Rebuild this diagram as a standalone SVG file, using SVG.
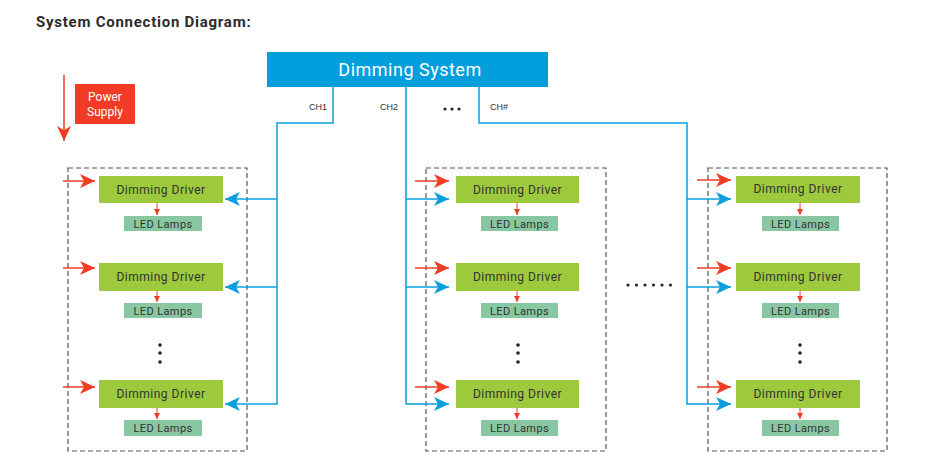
<svg xmlns="http://www.w3.org/2000/svg" width="950" height="460" viewBox="0 0 950 460">
<defs>
<style>
.title{font-family:Roboto,"Liberation Sans",sans-serif;font-weight:bold;font-size:15px;fill:#2b2b2b;letter-spacing:0.75px}
.sys{fill:#039fdd}
.systxt{font-family:Roboto,"Liberation Sans",sans-serif;font-size:18px;fill:#fff;letter-spacing:0.5px}
.ch{font-family:"Liberation Sans",Arial,sans-serif;font-size:9px;fill:#333}
.drv{fill:#9dc93c}
.drvtxt{font-family:Roboto,"Liberation Sans",sans-serif;font-size:12px;fill:#333;letter-spacing:0.5px}
.lamp{fill:#88c7a2}
.lamptxt{font-family:Roboto,"Liberation Sans",sans-serif;font-size:11px;fill:#333;letter-spacing:0.4px}
.grp{fill:none;stroke:#555;stroke-width:1.2;stroke-dasharray:5,3}
.blue{fill:none;stroke:#0a9fdc;stroke-width:1.5}
.red{fill:none;stroke:#f03c24;stroke-width:1.5}
.redt{fill:none;stroke:#f03c24;stroke-width:1}
.ps{fill:#f23b24}
.pstxt{font-family:Roboto,"Liberation Sans",sans-serif;font-size:12px;fill:#fff}
.dot{fill:#222}
</style>
<marker id="ar" markerUnits="userSpaceOnUse" markerWidth="16" markerHeight="14" refX="15" refY="7" orient="auto"><path d="M0,0 L15,7 L0,14 L4,7 z" fill="#f03c24"/></marker>
<marker id="ab" markerUnits="userSpaceOnUse" markerWidth="16" markerHeight="14" refX="15" refY="7" orient="auto"><path d="M0,0 L15,7 L0,14 L4,7 z" fill="#0a9fdc"/></marker>
<marker id="as" markerUnits="userSpaceOnUse" markerWidth="7" markerHeight="7" refX="6" refY="3" orient="auto"><path d="M0,0 L6,3 L0,6 z" fill="#f03c24"/></marker>
</defs>
<rect width="950" height="460" fill="#fff"/>
<text class="title" x="36" y="27">System Connection Diagram:</text>

<g id="power-supply">
<line class="red" x1="64" y1="75" x2="64" y2="141" marker-end="url(#ar)"/>
<rect class="ps" x="75" y="84" width="60" height="40"/>
<text class="pstxt" x="105" y="101" text-anchor="middle">Power</text>
<text class="pstxt" x="105" y="116" text-anchor="middle">Supply</text>
</g>

<g id="dimming-system">
<rect class="sys" x="267" y="52" width="281" height="35"/>
<text class="systxt" x="410" y="76" text-anchor="middle">Dimming System</text>
</g>

<g id="labels">
<text class="ch" x="309" y="110">CH1</text>
<text class="ch" x="380" y="110">CH2</text>
<circle class="dot" cx="445" cy="109" r="1.6"/><circle class="dot" cx="452" cy="109" r="1.6"/><circle class="dot" cx="459" cy="109" r="1.6"/>
<text class="ch" x="490" y="110">CH#</text>
<g id="hdots">
<circle class="dot" cx="628" cy="285" r="1.6"/><circle class="dot" cx="636.5" cy="285" r="1.6"/><circle class="dot" cx="645" cy="285" r="1.6"/><circle class="dot" cx="653.5" cy="285" r="1.6"/><circle class="dot" cx="662" cy="285" r="1.6"/><circle class="dot" cx="670.5" cy="285" r="1.6"/>
</g>
</g>

<g id="group1">
<rect class="grp" x="68" y="168" width="179" height="283"/>
<g id="g1-d1"><rect class="drv" x="99" y="176" width="124" height="27"/><text class="drvtxt" x="161" y="194" text-anchor="middle">Dimming Driver</text></g>
<g id="g1-l1"><rect class="lamp" x="124" y="216" width="78" height="15"/><text class="lamptxt" x="163" y="228" text-anchor="middle">LED Lamps</text></g>
<g id="g1-d2"><rect class="drv" x="99" y="263" width="124" height="28"/><text class="drvtxt" x="161" y="281" text-anchor="middle">Dimming Driver</text></g>
<g id="g1-l2"><rect class="lamp" x="124" y="303" width="78" height="15"/><text class="lamptxt" x="163" y="315" text-anchor="middle">LED Lamps</text></g>
<circle class="dot" cx="160" cy="345" r="1.8"/><circle class="dot" cx="160" cy="353" r="1.8"/><circle class="dot" cx="160" cy="362" r="1.8"/>
<g id="g1-d3"><rect class="drv" x="99" y="380" width="124" height="28"/><text class="drvtxt" x="161" y="398" text-anchor="middle">Dimming Driver</text></g>
<g id="g1-l3"><rect class="lamp" x="124" y="420" width="78" height="16"/><text class="lamptxt" x="163" y="432" text-anchor="middle">LED Lamps</text></g>
</g>

<g id="group2">
<rect class="grp" x="426" y="168" width="180" height="283"/>
<g id="g2-d1"><rect class="drv" x="456" y="176" width="123" height="27"/><text class="drvtxt" x="517.5" y="194" text-anchor="middle">Dimming Driver</text></g>
<g id="g2-l1"><rect class="lamp" x="481" y="216" width="77" height="15"/><text class="lamptxt" x="519.5" y="228" text-anchor="middle">LED Lamps</text></g>
<g id="g2-d2"><rect class="drv" x="456" y="263" width="123" height="28"/><text class="drvtxt" x="517.5" y="281" text-anchor="middle">Dimming Driver</text></g>
<g id="g2-l2"><rect class="lamp" x="481" y="303" width="77" height="15"/><text class="lamptxt" x="519.5" y="315" text-anchor="middle">LED Lamps</text></g>
<circle class="dot" cx="518" cy="345" r="1.8"/><circle class="dot" cx="518" cy="353" r="1.8"/><circle class="dot" cx="518" cy="362" r="1.8"/>
<g id="g2-d3"><rect class="drv" x="456" y="380" width="123" height="28"/><text class="drvtxt" x="517.5" y="398" text-anchor="middle">Dimming Driver</text></g>
<g id="g2-l3"><rect class="lamp" x="481" y="420" width="77" height="16"/><text class="lamptxt" x="519.5" y="432" text-anchor="middle">LED Lamps</text></g>
</g>

<g id="group3">
<rect class="grp" x="708" y="168" width="179" height="283"/>
<g id="g3-d1"><rect class="drv" x="736" y="176" width="124" height="27"/><text class="drvtxt" x="798" y="193" text-anchor="middle">Dimming Driver</text></g>
<g id="g3-l1"><rect class="lamp" x="762" y="216" width="77" height="15"/><text class="lamptxt" x="800.5" y="228" text-anchor="middle">LED Lamps</text></g>
<g id="g3-d2"><rect class="drv" x="736" y="263" width="124" height="28"/><text class="drvtxt" x="798" y="281" text-anchor="middle">Dimming Driver</text></g>
<g id="g3-l2"><rect class="lamp" x="762" y="303" width="77" height="15"/><text class="lamptxt" x="800.5" y="315" text-anchor="middle">LED Lamps</text></g>
<circle class="dot" cx="800" cy="345" r="1.8"/><circle class="dot" cx="800" cy="353" r="1.8"/><circle class="dot" cx="800" cy="362" r="1.8"/>
<g id="g3-d3"><rect class="drv" x="736" y="380" width="124" height="28"/><text class="drvtxt" x="798" y="398" text-anchor="middle">Dimming Driver</text></g>
<g id="g3-l3"><rect class="lamp" x="762" y="420" width="77" height="16"/><text class="lamptxt" x="800.5" y="432" text-anchor="middle">LED Lamps</text></g>
</g>

<g id="connectors">
<polyline class="blue" points="333,87 333,123 277,123 277,404"/>
<line class="blue" x1="277" y1="199" x2="225" y2="199" marker-end="url(#ab)"/>
<line class="blue" x1="277" y1="287" x2="225" y2="287" marker-end="url(#ab)"/>
<line class="blue" x1="277.75" y1="404" x2="225" y2="404" marker-end="url(#ab)"/>
<polyline class="blue" points="406,87 406,404 449,404" marker-end="url(#ab)"/>
<line class="blue" x1="406" y1="199" x2="449" y2="199" marker-end="url(#ab)"/>
<line class="blue" x1="406" y1="287" x2="449" y2="287" marker-end="url(#ab)"/>
<polyline class="blue" points="479,87 479,123 687,123 687,404 731,404" marker-end="url(#ab)"/>
<line class="blue" x1="687" y1="199" x2="731" y2="199" marker-end="url(#ab)"/>
<line class="blue" x1="687" y1="287" x2="731" y2="287" marker-end="url(#ab)"/>

<line class="red" x1="63" y1="181" x2="95" y2="181" marker-end="url(#ar)"/>
<line class="red" x1="63" y1="268" x2="95" y2="268" marker-end="url(#ar)"/>
<line class="red" x1="63" y1="387" x2="95" y2="387" marker-end="url(#ar)"/>
<line class="red" x1="415" y1="181" x2="449" y2="181" marker-end="url(#ar)"/>
<line class="red" x1="415" y1="268" x2="449" y2="268" marker-end="url(#ar)"/>
<line class="red" x1="415" y1="387" x2="449" y2="387" marker-end="url(#ar)"/>
<line class="red" x1="697" y1="180" x2="731" y2="180" marker-end="url(#ar)"/>
<line class="red" x1="697" y1="268" x2="731" y2="268" marker-end="url(#ar)"/>
<line class="red" x1="697" y1="387" x2="731" y2="387" marker-end="url(#ar)"/>

<line class="redt" x1="157" y1="203" x2="157" y2="215" marker-end="url(#as)"/>
<line class="redt" x1="157" y1="291" x2="157" y2="302" marker-end="url(#as)"/>
<line class="redt" x1="157" y1="408" x2="157" y2="419" marker-end="url(#as)"/>
<line class="redt" x1="517" y1="203" x2="517" y2="215" marker-end="url(#as)"/>
<line class="redt" x1="517" y1="291" x2="517" y2="302" marker-end="url(#as)"/>
<line class="redt" x1="517" y1="408" x2="517" y2="419" marker-end="url(#as)"/>
<line class="redt" x1="800" y1="203" x2="800" y2="215" marker-end="url(#as)"/>
<line class="redt" x1="800" y1="291" x2="800" y2="302" marker-end="url(#as)"/>
<line class="redt" x1="800" y1="408" x2="800" y2="419" marker-end="url(#as)"/>
</g>
</svg>
